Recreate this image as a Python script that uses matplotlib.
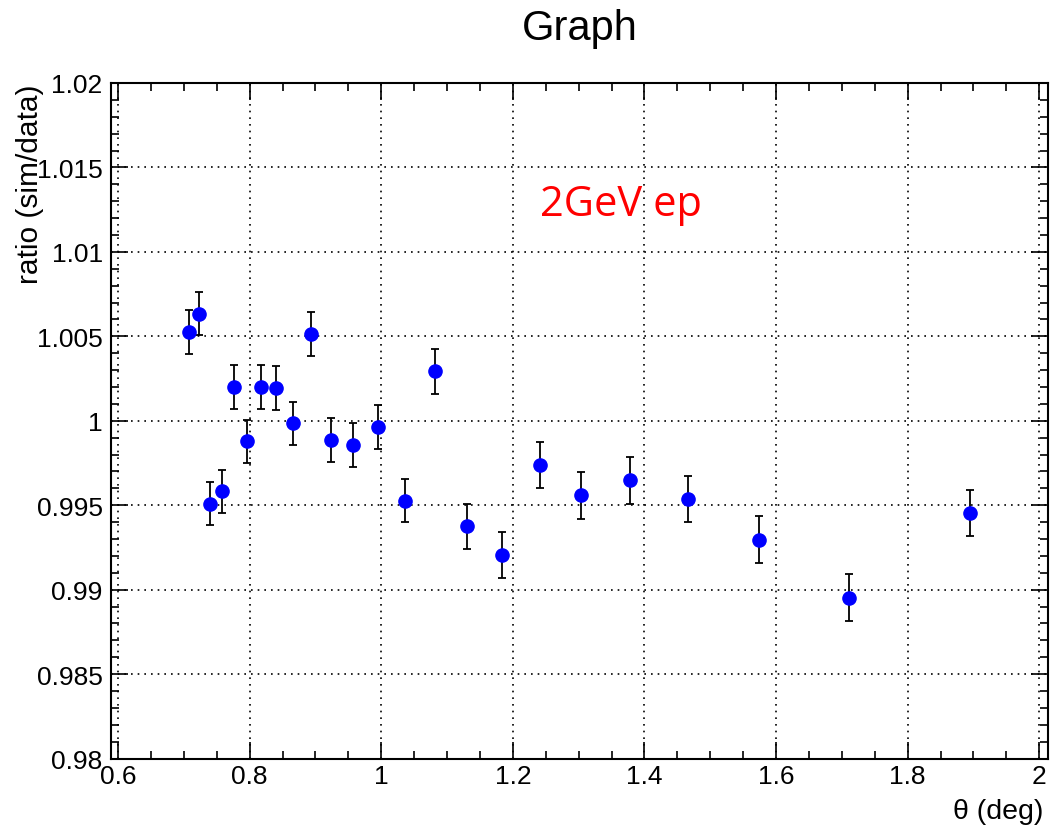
import matplotlib
matplotlib.use("Agg")
import matplotlib.pyplot as plt
from matplotlib.ticker import FixedLocator, MultipleLocator

#? ratio points
theta = [0.7078, 0.7234, 0.7397, 0.7574, 0.7757, 0.7954, 0.8172, 0.8400,
         0.8658, 0.8936, 0.9240, 0.9570, 0.9945, 1.0356, 1.0816, 1.1307,
         1.1839, 1.2407, 1.3040, 1.3775, 1.4657, 1.5740, 1.7103, 1.8942]
ratio = [1.00525, 1.00633, 0.99509, 0.99582, 1.00201, 0.99878, 1.00199, 1.00193,
         0.99986, 1.00511, 0.99886, 0.99856, 0.99964, 0.99527, 1.00292, 0.99375,
         0.99205, 0.99740, 0.99558, 0.99647, 0.99537, 0.99296, 0.98953, 0.99453]
ratio_err = [0.00128, 0.00128, 0.00128, 0.00127, 0.00129, 0.00127, 0.00129, 0.00129,
             0.00127, 0.00130, 0.00129, 0.00130, 0.00130, 0.00129, 0.00131, 0.00133,
             0.00135, 0.00137, 0.00137, 0.00139, 0.00138, 0.00140, 0.00138, 0.00137]

x_ticks = [0.6, 0.8, 1.0, 1.2, 1.4, 1.6, 1.8, 2.0]
x_ticklabels = ["0.6", "0.8", "1", "1.2", "1.4", "1.6", "1.8", "2"]
y_ticks = [0.98, 0.985, 0.99, 0.995, 1.0, 1.005, 1.01, 1.015, 1.02]
y_ticklabels = ["0.98", "0.985", "0.99", "0.995", "1", "1.005", "1.01", "1.015", "1.02"]

plt.rcParams["font.family"] = ["Liberation Sans", "DejaVu Sans"]

fig = plt.figure(figsize=(10.51, 8.29), dpi=100)
ax = fig.add_axes([0.1056, 0.0838, 0.8915, 0.8149])

ax.errorbar(theta, ratio, yerr=ratio_err, fmt="o", color="blue", markersize=9.5,
            ecolor="black", elinewidth=1.3, capsize=3, capthick=1.3, zorder=3)

ax.set_xlim(0.5892, 2.0132)
ax.set_ylim(0.98, 1.02)

ax.xaxis.set_major_locator(FixedLocator(x_ticks))
ax.set_xticklabels(x_ticklabels)
ax.xaxis.set_minor_locator(MultipleLocator(0.05))
ax.yaxis.set_major_locator(FixedLocator(y_ticks))
ax.set_yticklabels(y_ticklabels)
ax.yaxis.set_minor_locator(MultipleLocator(0.001))

ax.tick_params(which="both", direction="in", top=True, right=True, width=1.2,
               labelsize=19, colors="black")
ax.tick_params(which="major", length=12)
ax.tick_params(which="minor", length=6)
ax.tick_params(axis="y", pad=6)
ax.tick_params(axis="x", pad=4)
for s in ax.spines.values():
    s.set_linewidth(1.5)

ax.grid(True, which="major", color="black", linestyle=(0, (1, 3)), linewidth=1.2)

ax.text(1.2412, 1.01221, "2GeV ep", color="red", fontsize=30,
        family=["Open Sans", "DejaVu Sans"], ha="left", va="baseline")

fig.text(0.552, 1 - 29 / 829, "Graph", fontsize=30, ha="center", va="center")
fig.text(30 / 1051, 1 - 84 / 829, "ratio (sim/data)", fontsize=21.5,
         rotation=90, ha="center", va="top")
fig.text(1043 / 1051, 1 - 812 / 829, "θ (deg)", fontsize=20.5, ha="right", va="center")

fig.savefig("out.png", dpi=100)
